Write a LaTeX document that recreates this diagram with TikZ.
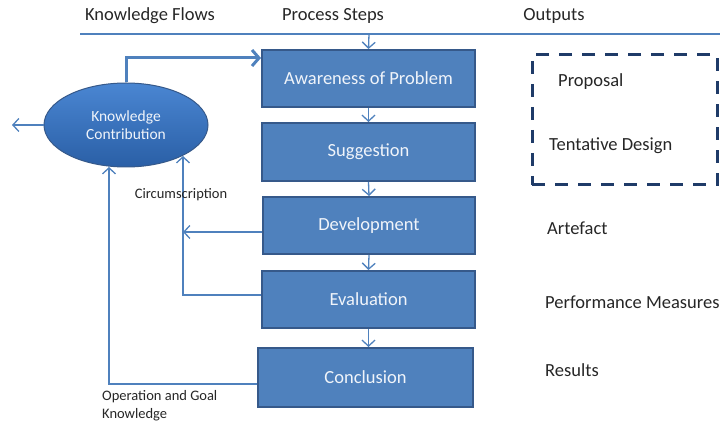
\documentclass[tikz,border=0pt]{standalone}
\usepackage{fontspec}
\setmainfont{Carlito}
\usetikzlibrary{arrows.meta,shapes.geometric}
\definecolor{boxfill}{HTML}{4F81BD}
\definecolor{boxline}{HTML}{36598A}
\definecolor{conn}{HTML}{4F81BD}
\definecolor{navy}{HTML}{1F3B68}
\definecolor{txt}{HTML}{262626}
\definecolor{elltop}{HTML}{4A86D2}
\definecolor{ellmid}{HTML}{3A78C8}
\definecolor{ellbot}{HTML}{2A5FA6}
\definecolor{boxtxt}{HTML}{F0F4FA}
\begin{document}
\begin{tikzpicture}[x=1pt,y=-1pt,
  stepbox/.style={draw=boxline, line width=2pt, fill=boxfill, text=boxtxt,
    font=\fontsize{18.5}{22}\selectfont, inner sep=0pt},
  conn/.style={draw=conn, line width=1.3pt},
  arr/.style={conn, -{Straight Barb[length=6pt,width=13pt,line width=1.3pt]}},
  bigarr/.style={draw=conn, line width=3pt, -{Straight Barb[length=7pt,width=16pt,line width=3pt]}},
  hdr/.style={text=txt, font=\fontsize{18.5}{22}\selectfont, inner sep=0pt},
  outtxt/.style={text=txt, font=\fontsize{18.5}{22}\selectfont, inner sep=0pt, anchor=west},
  small/.style={text=txt, font=\fontsize{14.5}{18}\selectfont, inner sep=0pt},
]
\useasboundingbox (0,0) rectangle (724,427);

% header
\node[hdr] (hk) at (150,16) {Knowledge Flows};
\node[hdr] (hp) at (333,16) {Process Steps};
\node[hdr] (ho) at (554,16) {Outputs};
\coordinate (l1) at (80,34);
\coordinate (l2) at (720,34);
\coordinate (ltop) at (369,34);
\draw[conn] (l1) -- (l2);

% process boxes
\node[stepbox, minimum width=213pt, minimum height=57pt] (aw) at (368.5,78.5) {Awareness of Problem};
\node[stepbox, minimum width=213pt, minimum height=58pt] (sg) at (368.5,152) {Suggestion};
\node[stepbox, minimum width=212pt, minimum height=57pt] (dv) at (369,225.5) {Development};
\node[stepbox, minimum width=213pt, minimum height=57pt] (ev) at (368.5,299.5) {Evaluation};
\node[stepbox, minimum width=215pt, minimum height=59pt] (co) at (365.5,377.5) {Conclusion};

\draw[arr] (ltop) -- (aw.north);
\draw[arr] (aw.south) -- (sg.north);
\draw[arr] (sg.south) -- (dv.north);
\draw[arr] (dv.south) -- (ev.north);
\draw[arr] (ev.south) -- (ev.south |- co.north);

% knowledge contribution
\node[ellipse, draw=boxline, line width=1pt, top color=elltop, middle color=ellmid, bottom color=ellbot,
  minimum width=164pt, minimum height=84pt, text=boxtxt, align=center,
  font=\fontsize{15.5}{18}\selectfont, inner sep=0pt] (kc) at (126,125) {Knowledge\\Contribution};

\coordinate (kout) at (12,125);
\draw[arr] (kc.west) -- (kout);
\draw[bigarr] (kc.north) |- ([yshift=20.5pt]aw.west);

\coordinate (cdev) at (183,232);
\draw[arr] ([yshift=-6.5pt]dv.west) -- (cdev);
\coordinate (ccirc) at (183,156);
\draw[arr] ([yshift=4.5pt]ev.west) -| (ccirc);
\coordinate (cop) at (109,167);
\draw[arr] ([yshift=-6.5pt]co.west) -| (cop);

\node[small] (lcirc) at (181,195) {Circumscription};
\node[small, anchor=north west, align=left] (lop) at (102,390) {Operation and Goal\\Knowledge};

% outputs
\node[draw=navy, line width=3pt, dash pattern=on 13pt off 10pt,
  minimum width=185pt, minimum height=130pt, inner sep=0pt] (obox) at (624.5,120) {};
\node[outtxt] (op) at (558,82) {Proposal};
\node[outtxt] (ot) at (549,146) {Tentative Design};
\node[outtxt] (oa) at (547,228) {Artefact};
\node[outtxt] (opm) at (545,302) {Performance Measures};
\node[outtxt] (ore) at (545,370) {Results};
\end{tikzpicture}
\end{document}
